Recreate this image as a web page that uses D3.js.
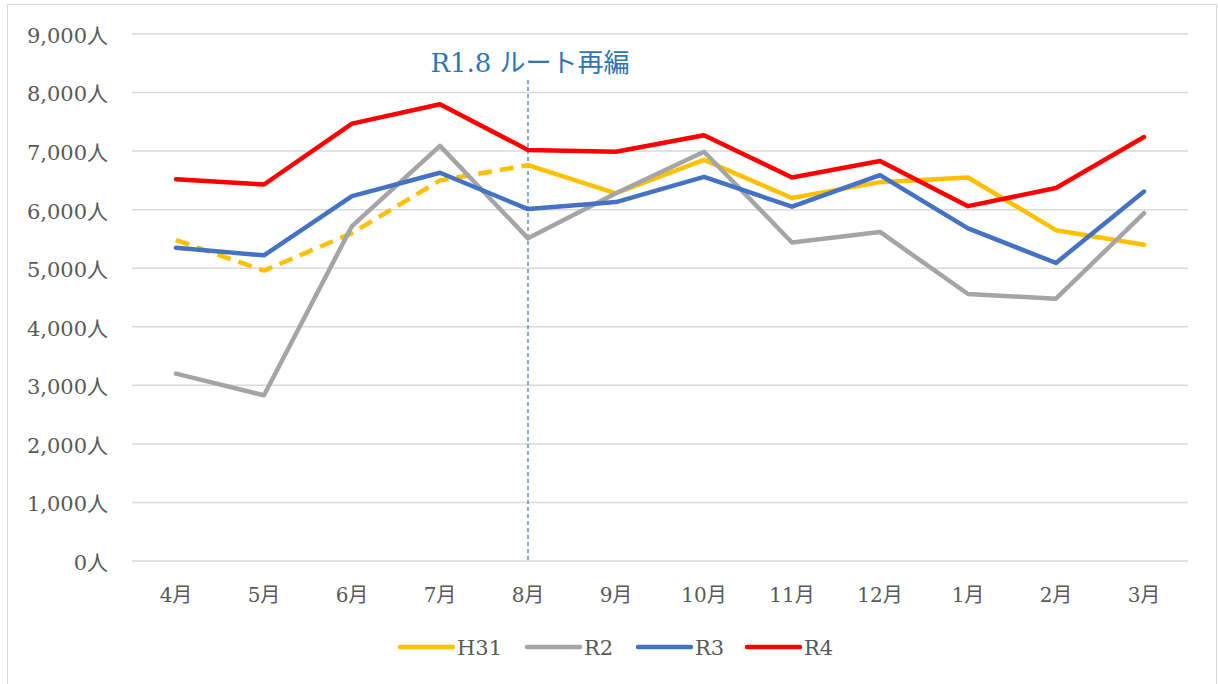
<!DOCTYPE html>
<html>
<head>
<meta charset="utf-8">
<script src="https://cdn.jsdelivr.net/npm/d3@7"></script>
<style>
  html, body { margin: 0; padding: 0; background: #fff; }
  svg { display: block; }
</style>
</head>
<body>
<svg id="chart" width="1218" height="684"></svg>
<script>
const months = ["4月", "5月", "6月", "7月", "8月", "9月", "10月", "11月", "12月", "1月", "2月", "3月"];
const yTicks = [0, 1000, 2000, 3000, 4000, 5000, 6000, 7000, 8000, 9000];

const h31 = [5480, 4960, 5600, 6500, 6760, 6280, 6850, 6200, 6470, 6550, 5650, 5400];
const r2 = [3200, 2830, 5720, 7090, 5510, 6280, 6990, 5440, 5620, 4560, 4480, 5940];
const r3 = [5350, 5220, 6230, 6630, 6010, 6130, 6560, 6050, 6590, 5680, 5090, 6310];
const r4 = [6520, 6430, 7470, 7800, 7020, 6990, 7270, 6550, 6830, 6060, 6370, 7240];

// H31 is dashed up to the route change in 8月
const dashedUntil = 4;

const series = [
  { name: "H31", values: h31, color: "#FFC000" },
  { name: "R2", values: r2, color: "#A5A5A5" },
  { name: "R3", values: r3, color: "#4472C4" },
  { name: "R4", values: r4, color: "#FF0000" },
];

const FONT = "'DejaVu Serif', 'Noto Sans CJK JP', serif";

const svg = d3.select("#chart");

// outer chart border
svg.append("rect")
  .attr("x", 7.5).attr("y", 4.5)
  .attr("width", 1209).attr("height", 700)
  .attr("fill", "none")
  .attr("stroke", "#d9d9d9")
  .attr("stroke-width", 1);

const x = d3.scaleBand().domain(months).range([132, 1188]);
const y = d3.scaleLinear().domain([0, 9000]).range([561, 34]);
const cx = (m) => x(m) + x.bandwidth() / 2;

// gridlines
svg.append("g")
  .selectAll("line")
  .data(yTicks)
  .join("line")
  .attr("x1", 132).attr("x2", 1188)
  .attr("y1", (d) => y(d)).attr("y2", (d) => y(d))
  .attr("stroke", "#d9d9d9")
  .attr("stroke-width", 1.5);

// y axis labels
const yAxis = d3.axisLeft(y)
  .tickValues(yTicks)
  .tickSize(0)
  .tickPadding(0)
  .tickFormat((d) => d3.format(",")(d) + "人");

svg.append("g")
  .attr("transform", "translate(108,0)")
  .call(yAxis)
  .call((g) => g.select(".domain").remove())
  .selectAll("text")
  .style("font-family", FONT)
  .style("font-size", "21px")
  .attr("fill", "#595959")
  .attr("dy", "0.4em");

// x axis labels
const xAxis = d3.axisBottom(x).tickSize(0).tickPadding(0);
svg.append("g")
  .attr("transform", "translate(0,581)")
  .call(xAxis)
  .call((g) => g.select(".domain").remove())
  .selectAll("text")
  .style("font-family", FONT)
  .style("font-size", "20px")
  .attr("fill", "#595959")
  .attr("dy", "1.05em");

// route change marker
svg.append("line")
  .attr("x1", cx("8月")).attr("x2", cx("8月"))
  .attr("y1", 80).attr("y2", y(0))
  .attr("stroke", "#2E75B6")
  .attr("stroke-width", 1.2)
  .attr("stroke-dasharray", "4,3");

svg.append("text")
  .attr("x", cx("8月") + 2)
  .attr("y", 72)
  .attr("text-anchor", "middle")
  .style("font-family", FONT)
  .style("font-size", "26px")
  .attr("fill", "#2E75B6")
  .text("R1.8 ルート再編");

const line = d3.line()
  .x((d) => cx(d.month))
  .y((d) => y(d.value));

const lines = svg.append("g")
  .attr("fill", "none")
  .attr("stroke-width", 4.5)
  .attr("stroke-linejoin", "round");

series.forEach((s) => {
  const points = s.values.map((value, i) => ({ month: months[i], value }));
  if (s.name === "H31") {
    lines.append("path")
      .attr("d", line(points.slice(0, dashedUntil + 1)))
      .attr("stroke", s.color)
      .attr("stroke-dasharray", "14,8");
    lines.append("path")
      .attr("d", line(points.slice(dashedUntil)))
      .attr("stroke", s.color)
      .attr("stroke-linecap", "round");
  } else {
    lines.append("path")
      .attr("d", line(points))
      .attr("stroke", s.color)
      .attr("stroke-linecap", "round");
  }
});

// legend
const legendX = [400, 527, 638, 747];
const legend = svg.append("g")
  .selectAll("g")
  .data(series)
  .join("g")
  .attr("transform", (d, i) => `translate(${legendX[i]},647)`);

legend.append("line")
  .attr("x1", 0).attr("x2", 53)
  .attr("stroke", (d) => d.color)
  .attr("stroke-width", 4.5)
  .attr("stroke-linecap", "round");

legend.append("text")
  .attr("x", 57)
  .attr("y", 0)
  .attr("dy", "0.38em")
  .style("font-family", FONT)
  .style("font-size", "21px")
  .attr("fill", "#595959")
  .text((d) => d.name);
</script>
</body>
</html>
